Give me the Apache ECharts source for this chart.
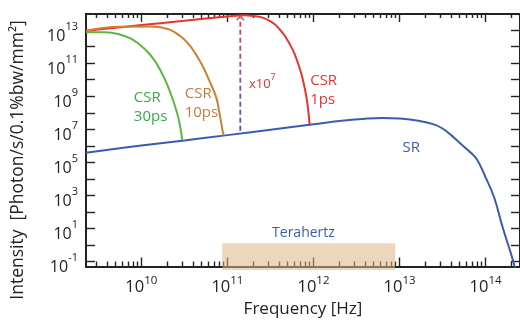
<!DOCTYPE html>
<html>
<head>
<meta charset="utf-8">
<script src="https://cdn.jsdelivr.net/npm/echarts@6/dist/echarts.min.js"></script>
<style>
  html, body { margin: 0; padding: 0; background: #fff; }
  #c { width: 520px; height: 327px; }
</style>
</head>
<body>
<div id="c"></div>
<script>
// Radiation spectra on log-log axes. Every number below is a base-10 exponent:
// frequency in Hz, intensity in photon/s/0.1%bw/mm^2.

// Axis extents
const X_MIN = 9.357, X_MAX = 14.40;
const Y_MIN = -1.29, Y_MAX = 13.97;

// Tick positions and labels
const xMajorExp = [10, 11, 12, 13, 14];
const minorMultipliers = [2, 3, 4, 5, 6, 7, 8, 9];
const yTickExp = [-1, 0, 1, 2, 3, 4, 5, 6, 7, 8, 9, 10, 11, 12, 13];
const yLabelExp = [-1, 1, 3, 5, 7, 9, 11, 13];

// Synchrotron radiation (SR)
const srFreqExp = [9.357, 10.0, 10.5, 11.0, 11.5, 12.0, 12.3, 12.6, 12.8, 13.0, 13.2, 13.4, 13.5, 13.6, 13.7, 13.8, 13.9, 14.0, 14.1, 14.2, 14.3, 14.36];
const srIntExp  = [5.58, 6.02, 6.33, 6.65, 6.98, 7.30, 7.50, 7.64, 7.69, 7.66, 7.53, 7.30, 7.05, 6.65, 6.18, 5.72, 5.18, 4.10, 2.88, 1.05, -0.60, -1.75];

// Coherent synchrotron radiation, 1 ps bunch
const csr1FreqExp = [9.357, 10.0, 10.5, 11.0, 11.2, 11.37, 11.47, 11.55, 11.61, 11.68, 11.76, 11.81, 11.86, 11.9, 11.93, 11.955];
const csr1IntExp  = [12.96, 13.30, 13.56, 13.82, 13.90, 13.80, 13.62, 13.35, 13.02, 12.55, 11.80, 11.15, 10.35, 9.45, 8.55, 7.30];

// Coherent synchrotron radiation, 10 ps bunch
const csr10FreqExp = [9.357, 9.73, 10.12, 10.31, 10.47, 10.58, 10.70, 10.79, 10.87, 10.91, 10.937, 10.955];
const csr10IntExp  = [12.96, 13.20, 13.22, 13.06, 12.56, 11.95, 10.95, 9.94, 8.93, 7.92, 7.12, 6.63];

// Coherent synchrotron radiation, 30 ps bunch
const csr30FreqExp = [9.357, 9.58, 9.73, 9.886, 10.04, 10.157, 10.272, 10.35, 10.408, 10.446, 10.475];
const csr30IntExp  = [12.86, 12.86, 12.76, 12.46, 11.85, 11.14, 10.04, 9.03, 8.12, 7.32, 6.36];

// Enhancement arrow (SR -> CSR 1 ps) and the terahertz band
const gainFreqExp = 11.15;
const gainIntExp = [6.92, 13.74];
const thzFreqExp = [10.94, 12.95];
const thzIntExp = [0.11, -1.5];

const FONT = '"Open Sans", "Noto Sans", sans-serif';
const INK = '#222';
const C_RED = '#e8332e', C_ORANGE = '#cc8133', C_GREEN = '#5cb83c', C_BLUE = '#3a5cb0';

const zip = (xs, ys) => xs.map((x, i) => [x, ys[i]]);

const xMinorExp = [];
for (let n = 9; n <= 14; n++) {
  for (const k of minorMultipliers) {
    const v = n + Math.log10(k);
    if (v > X_MIN && v < X_MAX) xMinorExp.push(v);
  }
}

const powLabel = v => '{b|10}{s|' + Math.round(v) + '}';

function xAxisDef(position, ticks, len, withLabels) {
  return {
    type: 'value', position, min: X_MIN, max: X_MAX,
    axisLine: { show: true, onZero: false, lineStyle: { color: INK, width: 2 } },
    axisTick: { show: true, inside: true, length: len, customValues: ticks,
                lineStyle: { color: INK, width: 1.4 } },
    axisLabel: withLabels ? {
      show: true, customValues: xMajorExp, formatter: powLabel, margin: 8,
      rich: {
        b: { fontFamily: FONT, fontSize: 16.5, color: INK, lineHeight: 21, verticalAlign: 'bottom' },
        s: { fontFamily: FONT, fontSize: 11.5, color: INK, lineHeight: 11, verticalAlign: 'top' }
      }
    } : { show: false },
    splitLine: { show: false }
  };
}

function yAxisDef(position, withLabels) {
  return {
    type: 'value', position, min: Y_MIN, max: Y_MAX,
    axisLine: { show: true, onZero: false, lineStyle: { color: INK, width: 2 } },
    axisTick: { show: true, inside: true, length: 9, customValues: yTickExp,
                lineStyle: { color: INK, width: 1.4 } },
    axisLabel: withLabels ? {
      show: true, customValues: yLabelExp, formatter: powLabel, margin: 8,
      padding: [5, 0, 0, 0],
      rich: {
        b: { fontFamily: FONT, fontSize: 16, color: INK, lineHeight: 23, verticalAlign: 'bottom' },
        s: { fontFamily: FONT, fontSize: 11, color: INK, lineHeight: 10, verticalAlign: 'top' }
      }
    } : { show: false },
    splitLine: { show: false }
  };
}

const bottomMajor = xAxisDef('bottom', xMajorExp, 9, true);
bottomMajor.name = 'Frequency [Hz]';
bottomMajor.nameLocation = 'middle';
bottomMajor.nameGap = 33;
bottomMajor.nameTextStyle = { fontFamily: FONT, fontSize: 17, color: INK };

const curve = (name, xs, ys, color) => ({
  name, type: 'line', data: zip(xs, ys), showSymbol: false, symbol: 'none',
  smooth: 0.4, lineStyle: { color, width: 2 }, z: 3, silent: true
});

const chart = echarts.init(document.getElementById('c'));
chart.setOption({
  animation: false,
  backgroundColor: '#fff',
  grid: { left: 86, top: 14, right: -1, bottom: 60.5, containLabel: false },
  xAxis: [
    bottomMajor,
    xAxisDef('bottom', xMinorExp, 5, false),
    xAxisDef('top', xMajorExp, 8, false),
    xAxisDef('top', xMinorExp, 4, false)
  ],
  yAxis: [yAxisDef('left', true), yAxisDef('right', false)],
  series: [
    {
      name: 'Terahertz', type: 'custom', clip: false, silent: true, z: 4,
      data: [[thzFreqExp[0], thzFreqExp[1], thzIntExp[0], thzIntExp[1]]],
      renderItem(params, api) {
        const p0 = api.coord([api.value(0), api.value(2)]);
        const p1 = api.coord([api.value(1), api.value(3)]);
        return {
          type: 'rect',
          shape: { x: p0[0], y: p0[1], width: p1[0] - p0[0], height: p1[1] - p0[1] },
          style: { fill: 'rgba(220,182,135,0.55)' }
        };
      }
    },
    curve('SR', srFreqExp, srIntExp, C_BLUE),
    curve('CSR 1ps', csr1FreqExp, csr1IntExp, C_RED),
    curve('CSR 10ps', csr10FreqExp, csr10IntExp, C_ORANGE),
    curve('CSR 30ps', csr30FreqExp, csr30IntExp, C_GREEN),
    {
      name: 'x10^7', type: 'line', silent: true, z: 5,
      data: [
        { value: [gainFreqExp, gainIntExp[0]], symbol: 'none' },
        { value: [gainFreqExp, gainIntExp[1]],
          symbol: 'path://M0,9 L9,0 L18,9 L16,11 L9,4 L2,11 Z',
          symbolSize: [8, 6], itemStyle: { color: '#e2404c' } }
      ],
      showSymbol: true,
      lineStyle: {
        width: 1.8, type: [5, 3],
        color: new echarts.graphic.LinearGradient(0, 0, 0, 1, [
          { offset: 0, color: '#e2404c' },
          { offset: 0.5, color: '#9a4c9e' },
          { offset: 1, color: '#4353b5' }
        ])
      }
    }
  ]
});

// Curve captions, anchored in data coordinates
const captions = [
  { at: [9.913, 8.35], text: 'CSR\n30ps', color: '#3aa84a', align: 'left' },
  { at: [10.504, 8.57], text: 'CSR\n10ps', color: '#c77a3a', align: 'left' },
  { at: [11.962, 9.37], text: 'CSR\n1ps', color: C_RED, align: 'left' },
  { at: [13.136, 5.90], text: 'SR', color: C_BLUE, align: 'center' },
  { at: [11.884, 0.73], text: 'Terahertz', color: C_BLUE, align: 'center', size: 14 }
];
const px = p => chart.convertToPixel({ xAxisIndex: 0, yAxisIndex: 0 }, p);
const graphics = captions.map(c => {
  const p = px(c.at);
  return {
    type: 'text', x: p[0], y: p[1], z: 10,
    style: {
      text: c.text, fill: c.color, font: (c.size || 15) + 'px ' + FONT,
      lineHeight: 18.5, align: c.align, verticalAlign: 'middle'
    }
  };
});
const gp = px([11.25, 9.86]);
graphics.push({
  type: 'text', x: gp[0], y: gp[1], z: 10,
  style: {
    text: '{a|x10}{e|7}', align: 'left', verticalAlign: 'middle',
    rich: {
      a: { fontFamily: FONT, fontSize: 13, fill: C_RED, color: C_RED, lineHeight: 18, verticalAlign: 'bottom' },
      e: { fontFamily: FONT, fontSize: 9, fill: C_RED, color: C_RED, lineHeight: 9, verticalAlign: 'top' }
    }
  }
});
graphics.push({
  type: 'text', x: 18, y: 160, rotation: Math.PI / 2, z: 10,
  style: {
    text: 'Intensity  [Photon/s/0.1%bw/mm²]', fill: INK, font: '17.5px ' + FONT,
    align: 'center', verticalAlign: 'middle'
  }
});
chart.setOption({ graphic: graphics });
</script>
</body>
</html>
